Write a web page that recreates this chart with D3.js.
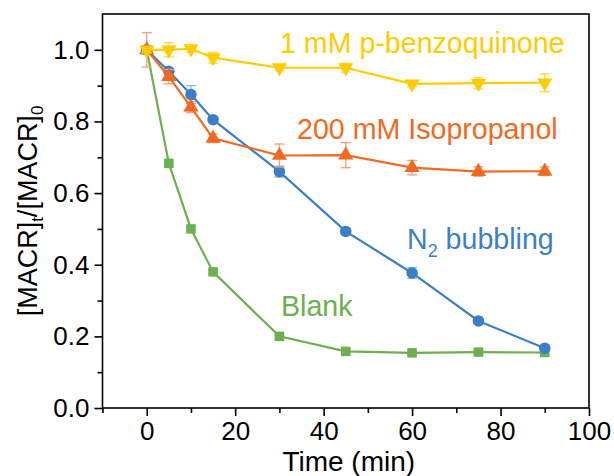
<!DOCTYPE html>
<html lang="en">
<head>
    <meta charset="UTF-8">
    <title>MACR degradation</title>
    <style>
        body { margin: 0; background: #fff; }
        svg text { font-family: "Liberation Sans", Arial, sans-serif; }
    </style>
</head>
<body>
<svg width="614" height="476"></svg>
<script src="https://cdnjs.cloudflare.com/ajax/libs/d3/7.8.5/d3.min.js"></script>
<script>
    // data
    const time = [0, 5, 10, 15, 30, 45, 60, 75, 90];
    const blank = [1.0, 0.683, 0.50, 0.38, 0.20, 0.158, 0.154, 0.156, 0.155];
    const blankErr = [0.005, 0.005, 0.005, 0.005, 0.005, 0.005, 0.005, 0.005, 0.005];
    const n2 = [1.0, 0.94, 0.875, 0.805, 0.66, 0.493, 0.377, 0.243, 0.167];
    const n2Err = [0.006, 0.008, 0.025, 0.006, 0.015, 0.006, 0.015, 0.006, 0.006];
    const ipa = [1.0, 0.925, 0.84, 0.753, 0.705, 0.706, 0.671, 0.660, 0.661];
    const ipaErr = [0.048, 0.02, 0.015, 0.012, 0.032, 0.035, 0.02, 0.013, 0.012];
    const bq = [1.0, 1.0, 1.003, 0.978, 0.95, 0.95, 0.905, 0.907, 0.908];
    const bqErr = [0.008, 0.02, 0.01, 0.015, 0.008, 0.012, 0.008, 0.015, 0.025];
    const xTicks = [0, 20, 40, 60, 80, 100];
    const yTicks = [0.0, 0.2, 0.4, 0.6, 0.8, 1.0];

    const series = [
        {name: "Blank", y: blank, err: blankErr, color: "#6cb04f", errColor: "#9fd18a", shape: "square"},
        {name: "N2", y: n2, err: n2Err, color: "#3b7fc9", errColor: "#8db7e3", shape: "circle"},
        {name: "IPA", y: ipa, err: ipaErr, color: "#f26a21", errColor: "#f5a27d", shape: "up"},
        {name: "BQ", y: bq, err: bqErr, color: "#ffcc00", errColor: "#ffd94d", shape: "down"}
    ];

    const svg = d3.select("svg");
    const mLeft = 102.5, mRight = 589, mTop = 14, mBottom = 408;

    const x = d3.scaleLinear().domain([-10, 100]).range([mLeft, mRight]);
    const y = d3.scaleLinear().domain([0, 1.1]).range([mBottom, mTop]);

    // frame
    svg.append("rect")
        .attr("x", mLeft).attr("y", mTop)
        .attr("width", mRight - mLeft).attr("height", mBottom - mTop)
        .attr("fill", "none").attr("stroke", "#000").attr("stroke-width", 1.6);

    // minor + major ticks
    const gx = svg.append("g").attr("transform", "translate(0," + mBottom + ")");
    gx.append("g").call(d3.axisBottom(x).tickValues(d3.range(-10, 101, 20)).tickSize(5).tickFormat(""));
    gx.append("g").call(d3.axisBottom(x).tickValues(xTicks).tickSize(8).tickPadding(6).tickFormat(d3.format("d")));
    gx.selectAll(".domain").remove();
    gx.selectAll("line").attr("stroke-width", 1.6);
    gx.selectAll("text").attr("font-size", 26).attr("fill", "#000")
        .attr("font-family", "Liberation Sans, Arial, sans-serif");

    const gy = svg.append("g").attr("transform", "translate(" + mLeft + ",0)");
    gy.append("g").call(d3.axisLeft(y).tickValues([0.1, 0.3, 0.5, 0.7, 0.9]).tickSize(5).tickFormat(""));
    gy.append("g").call(d3.axisLeft(y).tickValues(yTicks).tickSize(8).tickPadding(5).tickFormat(d3.format(".1f")));
    gy.selectAll(".domain").remove();
    gy.selectAll("line").attr("stroke-width", 1.6);
    gy.selectAll("text").attr("font-size", 26).attr("fill", "#000")
        .attr("font-family", "Liberation Sans, Arial, sans-serif");

    // axis titles
    svg.append("text")
        .attr("x", (mLeft + mRight) / 2 + 3).attr("y", 471)
        .attr("text-anchor", "middle").attr("font-size", 28)
        .text("Time (min)");

    const yt = svg.append("text")
        .attr("transform", "translate(37," + (mTop + mBottom) / 2 + ") rotate(-90)")
        .attr("text-anchor", "middle").attr("font-size", 27);
    yt.append("tspan").text("[MACR]");
    yt.append("tspan").attr("font-size", 17).attr("dy", 6).text("t");
    yt.append("tspan").attr("dy", -6).text("/[MACR]");
    yt.append("tspan").attr("font-size", 17).attr("dy", 6).text("0");

    const line = d3.line().x(d => x(d[0])).y(d => y(d[1]));
    const symbolPath = {
        square: d3.symbol().type(d3.symbolSquare).size(90)(),
        circle: d3.symbol().type(d3.symbolCircle).size(105)(),
        up: d3.symbol().type(d3.symbolTriangle).size(100)(),
        down: d3.symbol().type(d3.symbolTriangle).size(100)()
    };

    series.forEach(s => {
        const pts = time.map((t, i) => [t, s.y[i], s.err[i]]);
        const g = svg.append("g");

        // error bars
        const eb = g.selectAll(".eb").data(pts).enter().append("g")
            .attr("stroke", s.errColor).attr("stroke-width", 1.4);
        eb.append("line")
            .attr("x1", d => x(d[0])).attr("x2", d => x(d[0]))
            .attr("y1", d => y(d[1] + d[2])).attr("y2", d => y(d[1] - d[2]));
        eb.append("line")
            .attr("x1", d => x(d[0]) - 5).attr("x2", d => x(d[0]) + 5)
            .attr("y1", d => y(d[1] + d[2])).attr("y2", d => y(d[1] + d[2]));
        eb.append("line")
            .attr("x1", d => x(d[0]) - 5).attr("x2", d => x(d[0]) + 5)
            .attr("y1", d => y(d[1] - d[2])).attr("y2", d => y(d[1] - d[2]));

        g.append("path")
            .attr("d", line(pts))
            .attr("fill", "none").attr("stroke", s.color).attr("stroke-width", 2.2);

        g.selectAll(".m").data(pts).enter().append("path")
            .attr("d", symbolPath[s.shape])
            .attr("transform", d => "translate(" + x(d[0]) + "," + y(d[1]) + ")" +
                (s.shape === "down" ? " rotate(180)" : ""))
            .attr("fill", s.color);
    });

    // series labels
    svg.append("text").attr("x", 280).attr("y", 53).attr("font-size", 28.6)
        .attr("fill", "#ffcc00").text("1 mM p-benzoquinone");
    svg.append("text").attr("x", 297).attr("y", 139).attr("font-size", 28.6)
        .attr("fill", "#f26a21").text("200 mM Isopropanol");
    const n2t = svg.append("text").attr("x", 407).attr("y", 249).attr("font-size", 28.6)
        .attr("fill", "#3b7fc9");
    n2t.append("tspan").text("N");
    n2t.append("tspan").attr("font-size", 18).attr("dy", 8).text("2");
    n2t.append("tspan").attr("dy", -8).text(" bubbling");
    svg.append("text").attr("x", 281).attr("y", 316).attr("font-size", 28.6)
        .attr("fill", "#6cb04f").text("Blank");
</script>
</body>
</html>
